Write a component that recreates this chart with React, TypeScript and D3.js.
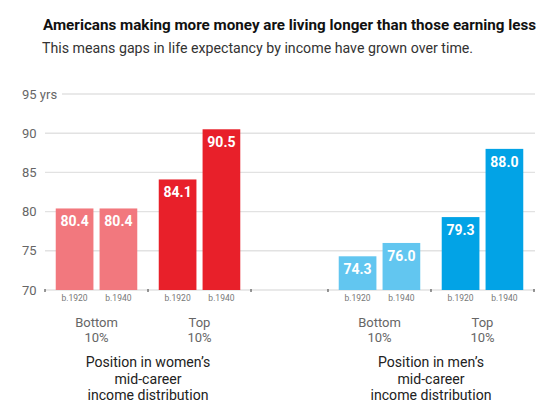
import React from "react";
import * as d3 from "d3";

const genders = ["women", "men"];
const levels = ["Bottom", "Top"];
const years = ["b.1920", "b.1940"];
const womenValues = [80.4, 80.4, 84.1, 90.5];
const menValues = [74.3, 76.0, 79.3, 88.0];
const yTicks = [70, 75, 80, 85, 90, 95];
const groupTitles = [
  ["Position in women\u2019s", "mid-career", "income distribution"],
  ["Position in men\u2019s", "mid-career", "income distribution"],
];
const colors: Record<string, string[]> = {
  women: ["#F2787E", "#E8202A"],
  men: ["#62C6F0", "#02A3E6"],
};

const W = 550;
const H = 407;
const FONT = "Roboto, 'Noto Sans', sans-serif";

export default function App() {
  const y = d3.scaleLinear().domain([70, 95]).range([290, 94]);
  const gx = d3.scaleBand<string>().domain(genders).range([45, 534]).paddingInner(0.272);
  const lx = d3.scaleBand<string>().domain(levels).range([0, gx.bandwidth()]);
  const yx = d3
    .scaleBand<string>()
    .domain(years)
    .range([0, lx.bandwidth()])
    .paddingInner(0.14)
    .paddingOuter(0.245);

  const data = genders.flatMap((g) => {
    const vals = g === "women" ? womenValues : menValues;
    return levels.flatMap((l, li) =>
      years.map((yr, yi) => ({ g, l, li, yr, v: vals[li * 2 + yi] }))
    );
  });

  const tickXs: number[] = [];
  genders.forEach((g) => {
    levels.forEach((l) => tickXs.push((gx(g) as number) + (lx(l) as number)));
    tickXs.push((gx(g) as number) + gx.bandwidth());
  });

  return (
    <svg
      width={W}
      height={H}
      style={{ position: "absolute", left: 0, top: 0, background: "#fff" }}
      fontFamily={FONT}
    >
      <rect width={W} height={H} fill="#fff" />
      <text x={43} y={30} fontSize={15.2} fontWeight={700} fill="#111">
        Americans making more money are living longer than those earning less
      </text>
      <text x={42} y={53} fontSize={14.2} fill="#333">
        This means gaps in life expectancy by income have grown over time.
      </text>

      {yTicks.map((t) => (
        <g key={t}>
          <line
            x1={t === 95 ? 62 : 45}
            x2={535}
            y1={y(t)}
            y2={y(t)}
            stroke="#e2e2e2"
            strokeWidth={1.4}
          />
          <text x={22} y={y(t) + 4.5} fontSize={13} fill="#666">
            {t === 95 ? "95 yrs" : t}
          </text>
        </g>
      ))}

      {tickXs.map((x, i) => (
        <line key={i} x1={x} x2={x} y1={289} y2={292} stroke="#555" strokeWidth={1.2} />
      ))}

      {data.map((d, i) => {
        const x = (gx(d.g) as number) + (lx(d.l) as number) + (yx(d.yr) as number);
        const bw = yx.bandwidth();
        return (
          <g key={i}>
            <rect x={x} y={y(d.v)} width={bw} height={y(70) - y(d.v)} fill={colors[d.g][d.li]} />
            <text
              x={x + bw / 2}
              y={y(d.v) + 18}
              textAnchor="middle"
              fontSize={14}
              fontWeight={700}
              fill="#fff"
            >
              {d.v.toFixed(1)}
            </text>
            <text x={x + bw / 2} y={301} textAnchor="middle" fontSize={8.5} fill="#777">
              {d.yr}
            </text>
          </g>
        );
      })}

      {genders.map((g, gi) => (
        <g key={g}>
          {levels.map((l) => {
            const cx = (gx(g) as number) + (lx(l) as number) + lx.bandwidth() / 2;
            return (
              <g key={l}>
                <text x={cx} y={327} textAnchor="middle" fontSize={13} fill="#666">
                  {l}
                </text>
                <text x={cx} y={342} textAnchor="middle" fontSize={13} fill="#666">
                  10%
                </text>
              </g>
            );
          })}
          {groupTitles[gi].map((s, si) => (
            <text
              key={si}
              x={(gx(g) as number) + gx.bandwidth() / 2}
              y={367 + si * 16.5}
              textAnchor="middle"
              fontSize={14.1}
              fill="#222"
            >
              {s}
            </text>
          ))}
        </g>
      ))}
    </svg>
  );
}
